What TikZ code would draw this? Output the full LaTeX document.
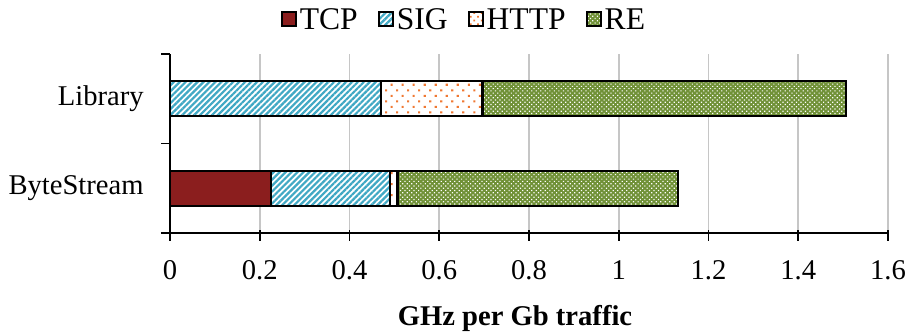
\documentclass[tikz,border=0pt]{standalone}
\usepackage{fontspec}
\setmainfont{Liberation Serif}
\usepackage{tikz}
\usetikzlibrary{patterns.meta}
\usetikzlibrary{positioning}

\definecolor{tcpred}{RGB}{139,30,30}
\definecolor{sigblue}{RGB}{64,168,196}
\definecolor{httporange}{RGB}{240,120,50}
\definecolor{regreen}{RGB}{112,145,55}

\tikzset{
  gridline/.style={line width=0.9pt, color=gray!45},
  axisline/.style={line width=0.9pt},
  tcpbar/.style={draw, line width=1.2pt, fill=tcpred},
  sigbar/.style={draw, line width=1.2pt, preaction={fill=white},
    pattern={Lines[angle=45, distance=2.1pt, line width=1.1pt]}, pattern color=sigblue},
  httpbar/.style={draw, line width=1.2pt, preaction={fill=white},
    pattern={Dots[angle=45, distance=3.9pt, radius=0.75pt]}, pattern color=httporange},
  rebar/.style={draw, line width=1.2pt, preaction={fill=regreen},
    pattern={Dots[angle=45, distance=1.6pt, radius=0.42pt]}, pattern color=white},
  legbox/.style={minimum size=7pt, inner sep=0pt},
  legtext/.style={inner sep=0pt, font=\fontsize{15.8}{18}\selectfont},
  ticklabel/.style={font=\fontsize{14.3}{16}\selectfont},
}

\begin{document}
\begin{tikzpicture}[x=224.375pt, y=44.75pt]
            \useasboundingbox (-85pt,-50pt) rectangle (369.5pt,116.5pt);

            % vertical grid
            \foreach \v in {0.2,0.4,0.6,0.8,1,1.2,1.4,1.6}
            \draw[gridline] (\v,0)--(\v,2);

            % Library
            \draw[sigbar] (0,1.305) rectangle (0.47,1.695);
            \draw[httpbar] (0.47,1.305) rectangle (0.696,1.695);
            \draw[rebar] (0.696,1.305) rectangle (1.507,1.695);
            % ByteStream
            \draw[tcpbar] (0,0.305) rectangle (0.225,0.695);
            \draw[sigbar] (0.225,0.305) rectangle (0.49,0.695);
            \draw[httpbar] (0.49,0.305) rectangle (0.507,0.695);
            \draw[rebar] (0.507,0.305) rectangle (1.132,0.695);

            % axes
            \draw[axisline] (-4.5pt,0)--(1.6,0);
            \draw[axisline] (0,0)--(0,2);
            \foreach \j in {1,2}
            \draw[axisline] (0,\j)--++(-4.5pt,0);
            \foreach \v in {0,0.2,0.4,0.6,0.8,1,1.2,1.4,1.6}
            \draw[axisline] (\v,1.5pt)--(\v,-4pt) node[ticklabel, below=6pt] (tick\v) {\v};

            \node[ticklabel, inner sep=0pt, anchor=east] (catlib) at (-13pt,1.5) {Library};
            \node[ticklabel, inner sep=0pt, anchor=east] (catbyte) at (-13pt,0.5) {ByteStream};

            \node[ticklabel, font=\fontsize{14.3}{16}\selectfont\bfseries] (xtitle) at (172.5pt,-42.5pt) {GHz per Gb traffic};

            % legend
            \node[legbox, draw, line width=1.1pt, fill=tcpred, anchor=west] (legtcpbox) at (55.4pt,107pt) {};
            \node[legtext, right=1.2pt of legtcpbox] (legtcp) {TCP};
            \node[legbox, sigbar, line width=1.1pt, right=9.8pt of legtcp] (legsigbox) {};
            \node[legtext, right=1.2pt of legsigbox] (legsig) {SIG};
            \node[legbox, httpbar, line width=1.1pt, pattern={Dots[angle=45, distance=2.6pt, radius=0.6pt]},
              right=9.8pt of legsig] (leghttpbox) {};
            \node[legtext, right=1.2pt of leghttpbox] (leghttp) {HTTP};
            \node[legbox, rebar, line width=1.1pt, right=9.8pt of leghttp] (legrebox) {};
            \node[legtext, right=1.2pt of legrebox] (legre) {RE};
        \end{tikzpicture}
\end{document}
